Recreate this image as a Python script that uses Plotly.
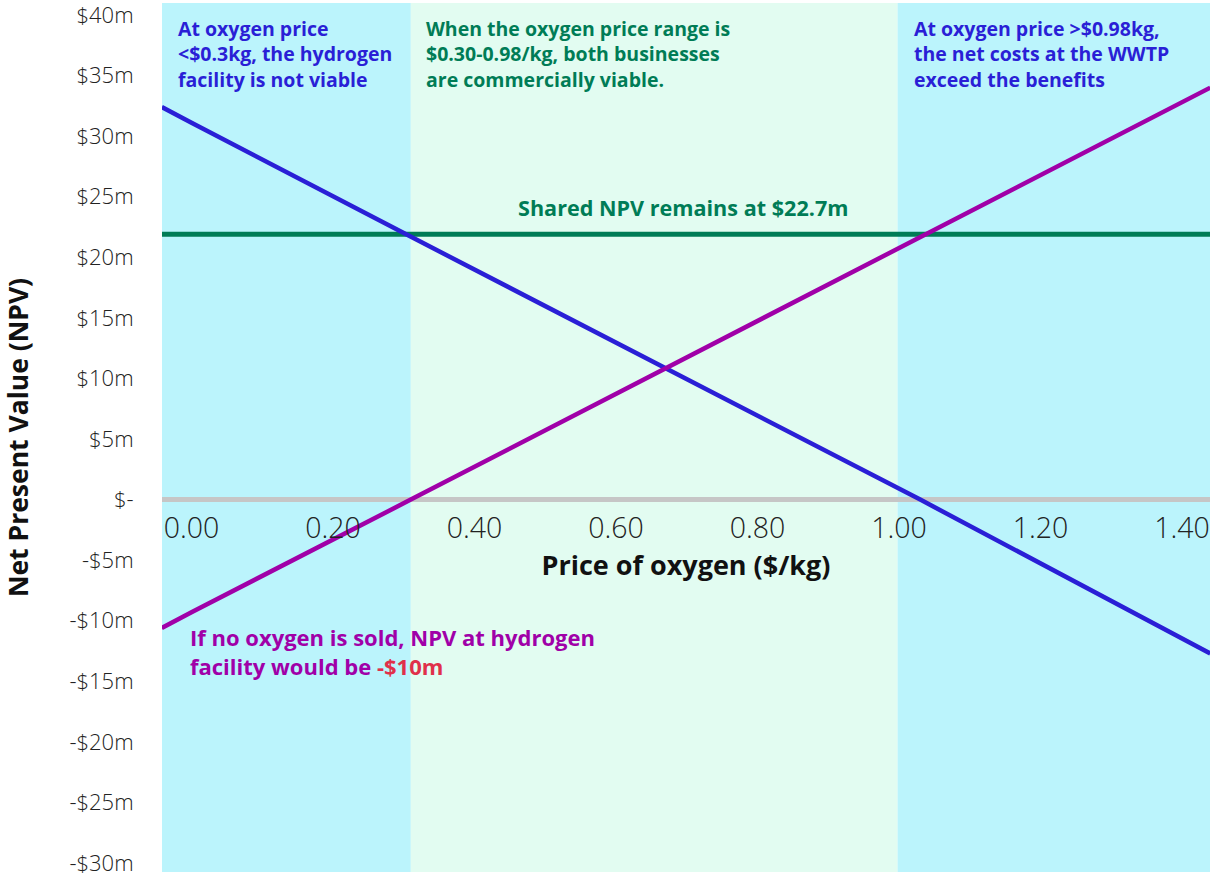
import plotly.graph_objects as go

# ---- data ----
price_x = [-0.042, 0.0, 0.30, 0.67, 1.03, 1.44]
hydrogen_npv = [32.4, 31.1, 22.0, 10.8, 0.0, -12.7]      # blue line
wwtp_x = [-0.042, 0.0, 0.31, 0.67, 1.04, 1.44]
wwtp_npv = [-10.6, -9.3, 0.0, 10.8, 22.0, 34.0]          # purple line
shared_x = [-0.042, 1.44]
shared_npv = [21.9, 21.9]                                  # green line

band_edges = [-0.042, 0.31, 0.998, 1.44]
band_colors = ["#bbf4fc", "#e2fcf1", "#bbf4fc"]

x_ticks = [0.0, 0.2, 0.4, 0.6, 0.8, 1.0, 1.2, 1.4]
x_ticktext = ["0.00", "0.20", "0.40", "0.60", "0.80", "1.00", "1.20", "1.40"]
y_ticks = [40, 35, 30, 25, 20, 15, 10, 5, 0, -5, -10, -15, -20, -25, -30]
y_ticktext = ["$40m", "$35m", "$30m", "$25m", "$20m", "$15m", "$10m", "$5m", "$-",
              "-$5m", "-$10m", "-$15m", "-$20m", "-$25m", "-$30m"]

X_RANGE = [-0.0417, 1.4396]
Y_RANGE = [-30.74, 40.99]

BLUE = "#2a1fd6"
PURPLE = "#a000a8"
GREEN = "#007c56"
RED = "#e0304a"
FONT = "Open Sans"

fig = go.Figure()

shapes = []
for i, c in enumerate(band_colors):
    shapes.append(dict(type="rect", xref="x", yref="paper",
                       x0=band_edges[i], x1=band_edges[i + 1], y0=0, y1=1,
                       fillcolor=c, line=dict(width=0), layer="below"))

fig.add_trace(go.Scatter(x=shared_x, y=shared_npv, mode="lines",
                         line=dict(color=GREEN, width=5), name="Shared NPV",
                         hoverinfo="skip"))
fig.add_trace(go.Scatter(x=price_x, y=hydrogen_npv, mode="lines",
                         line=dict(color=BLUE, width=4.5), name="Hydrogen facility"))
fig.add_trace(go.Scatter(x=wwtp_x, y=wwtp_npv, mode="lines",
                         line=dict(color=PURPLE, width=4.5), name="WWTP"))

zero_pos = (0 - Y_RANGE[0]) / (Y_RANGE[1] - Y_RANGE[0])

ann_font = dict(family=FONT, size=19.5, weight="bold")
annotations = [
    dict(text="At oxygen price<br><$0.3kg, the hydrogen<br>facility is not viable",
         x=0.0135, y=0.941, xanchor="left", yanchor="middle", align="left",
         font=dict(ann_font, color=BLUE)),
    dict(text="When the oxygen price range is<br>$0.30-0.98/kg, both businesses<br>are commercially viable.",
         x=0.2497, y=0.941, xanchor="left", yanchor="middle", align="left",
         font=dict(ann_font, color=GREEN)),
    dict(text="At oxygen price >$0.98kg,<br>the net costs at the WWTP<br>exceed the benefits",
         x=0.7157, y=0.941, xanchor="left", yanchor="middle", align="left",
         font=dict(ann_font, color=BLUE)),
    dict(text="Shared NPV remains at $22.7m",
         x=0.497, y=0.765, xanchor="center", yanchor="middle",
         font=dict(family=FONT, size=21.6, weight="bold", color=GREEN)),
    dict(text="If no oxygen is sold, NPV at hydrogen<br>facility would be <span style='color:%s'>-$10m</span>" % RED,
         x=0.025, y=0.2538, xanchor="left", yanchor="middle", align="left",
         font=dict(family=FONT, size=22, weight="bold", color=PURPLE)),
]
for a in annotations:
    a.update(xref="paper", yref="paper", showarrow=False)

fig.update_layout(
    width=1210, height=878,
    margin=dict(l=162, r=0, t=3, b=6),
    paper_bgcolor="white", plot_bgcolor="white",
    showlegend=False,
    shapes=shapes,
    annotations=annotations,
    font=dict(family=FONT, color="#222222"),
    xaxis=dict(range=X_RANGE, tickvals=x_ticks, ticktext=x_ticktext,
               anchor="free", position=zero_pos, showgrid=False, zeroline=False,
               showline=False, ticks="outside", ticklen=3, tickcolor="rgba(0,0,0,0)",
               ticklabeloverflow="allow",
               tickfont=dict(family=FONT, size=28.5, weight=300, color="#222222"),
               title=dict(text="Price of oxygen ($/kg)", standoff=6,
                          font=dict(family=FONT, size=27, weight="bold", color="#111111")),
               automargin=False),
    yaxis=dict(range=Y_RANGE, tickvals=y_ticks, ticktext=y_ticktext,
               showgrid=False, zeroline=True, zerolinecolor="#c6c6c6", zerolinewidth=5,
               showline=False, ticks="outside", ticklen=23, tickcolor="rgba(0,0,0,0)",
               ticklabeloverflow="allow",
               tickfont=dict(family=FONT, size=22, weight=300, color="#222222"),
               title=dict(text="Net Present Value (NPV)", standoff=44,
                          font=dict(family=FONT, size=26.5, weight="bold", color="#111111")),
               automargin=False),
)

fig.write_html("out.html", config={"displayModeBar": False},
               post_script="document.body.style.margin='0px';")
